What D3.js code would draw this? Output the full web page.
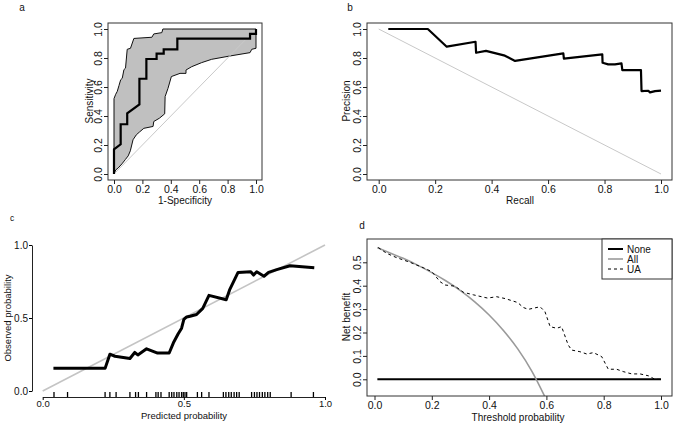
<!DOCTYPE html>
<html><head><meta charset="utf-8">
<script src="https://cdn.jsdelivr.net/npm/d3@7"></script>
<style>
html,body{margin:0;padding:0;background:#fff;}
svg{display:block;font-family:"Liberation Sans",Arial,Helvetica,sans-serif;}
</style></head>
<body>
<svg id="chart" width="676" height="425"></svg>
<script>
// ---------- DATA ----------
// a: ROC curve with confidence band
const rocX = [0,0,0.047,0.047,0.093,0.093,0.179,0.179,0.228,0.228,0.3,0.3,0.35,0.35,0.446,0.446,0.958,0.958,1,1];
const rocY = [0,0.17,0.205,0.343,0.343,0.418,0.48,0.657,0.657,0.793,0.793,0.83,0.83,0.86,0.86,0.933,0.933,0.966,0.966,1];
const upperX = [0,0,0.012,0.023,0.035,0.047,0.058,0.07,0.081,0.093,0.116,0.14,0.267,0.28,0.337,0.344,1];
const upperY = [0,0.52,0.55,0.57,0.61,0.65,0.66,0.72,0.73,0.86,0.867,0.935,0.943,0.966,0.975,1,1];
const lowerX = [0,0.012,0.028,0.056,0.08,0.1,0.115,0.134,0.157,0.18,0.21,0.275,0.28,0.32,0.357,0.36,0.38,0.404,0.465,0.507,0.507,0.547,0.617,0.688,0.817,0.958,0.97,1,1];
const lowerY = [0,0.028,0.04,0.07,0.1,0.125,0.16,0.236,0.27,0.29,0.315,0.328,0.362,0.385,0.415,0.534,0.59,0.672,0.694,0.694,0.717,0.74,0.768,0.791,0.814,0.837,0.86,0.867,1];
const ticksA = [0,0.2,0.4,0.6,0.8,1];

// b: precision-recall curve
const prRecall = [0.034,0.174,0.241,0.343,0.345,0.38,0.447,0.483,0.654,0.656,0.792,0.793,0.813,0.837,0.86,0.863,0.929,0.931,0.955,0.961,0.979,1.0];
const prPrecision = [1.0,1.0,0.878,0.912,0.836,0.849,0.816,0.78,0.832,0.796,0.825,0.767,0.756,0.756,0.763,0.717,0.717,0.572,0.574,0.563,0.572,0.575];

// c: calibration curve
const calX = [0.038,0.221,0.238,0.256,0.309,0.326,0.337,0.368,0.407,0.448,0.463,0.48,0.492,0.5,0.51,0.522,0.545,0.567,0.589,0.65,0.662,0.692,0.737,0.747,0.758,0.784,0.8,0.829,0.876,0.962];
const calY = [0.155,0.155,0.252,0.238,0.223,0.264,0.247,0.289,0.26,0.26,0.33,0.392,0.43,0.49,0.507,0.512,0.524,0.566,0.655,0.625,0.692,0.812,0.817,0.794,0.817,0.786,0.812,0.831,0.858,0.845];
const rugX = [0.04,0.088,0.221,0.238,0.26,0.309,0.329,0.339,0.368,0.401,0.409,0.419,0.448,0.457,0.465,0.475,0.483,0.492,0.498,0.504,0.51,0.548,0.563,0.589,0.64,0.649,0.659,0.668,0.678,0.687,0.696,0.74,0.75,0.759,0.768,0.778,0.787,0.797,0.806,0.88,0.959];
const ticksC = [0,0.5,1];

// d: decision curve
const noneX = [0.01,1];
const noneY = [0,0];
const allX = [0.01,0.05,0.1,0.15,0.2,0.25,0.3,0.35,0.4,0.45,0.5,0.55,0.6];
const allY = [0.563,0.542,0.517,0.488,0.456,0.42,0.379,0.331,0.275,0.209,0.13,0.033,-0.088];
const uaX = [0.013,0.043,0.077,0.124,0.17,0.2,0.229,0.246,0.281,0.31,0.345,0.395,0.426,0.456,0.5,0.519,0.537,0.578,0.595,0.613,0.636,0.653,0.676,0.688,0.717,0.741,0.764,0.793,0.816,0.845,0.868,0.898,0.927,0.956,0.979,1.0];
const uaY = [0.563,0.538,0.52,0.5,0.477,0.46,0.417,0.403,0.398,0.372,0.361,0.347,0.353,0.345,0.328,0.307,0.299,0.31,0.289,0.225,0.218,0.225,0.147,0.125,0.118,0.108,0.114,0.097,0.043,0.043,0.033,0.023,0.023,0.015,0.0,0.0];
const ticksD = [0,0.1,0.2,0.3,0.4,0.5];
const legendLabels = ["None","All","UA"];

// ---------- DRAWING ----------
const svg = d3.select("#chart");
const TICKFONT = "10.5px", TITLEFONT = "10px";
const fmt1 = d3.format(".1f");
const zip = (xs, ys) => xs.map((x,i)=>[x, ys[i]]);

function styleAxis(g){
  g.select(".domain").remove();
  g.selectAll(".tick line").attr("stroke","#222");
  g.selectAll(".tick text").attr("fill","#111").style("font-size",TICKFONT);
}
function rotateYLabels(g, c){
  g.selectAll(".tick text")
    .attr("transform","rotate(-90)")
    .attr("x",0).attr("y",-c).attr("dy","0.35em")
    .attr("text-anchor","middle");
}
function box(x0,y0,x1,y1){
  svg.append("rect").attr("x",x0).attr("y",y0).attr("width",x1-x0).attr("height",y1-y0)
    .attr("fill","none").attr("stroke","#333").attr("stroke-width",1);
}
function text(x,y,s,size,rot,anchor){
  const t = svg.append("text").attr("x",x).attr("y",y).text(s)
    .style("font-size",size).attr("fill","#111")
    .attr("text-anchor",anchor||"middle").attr("dominant-baseline","central");
  if(rot) t.attr("transform",`rotate(${rot},${x},${y})`);
  return t;
}

// ===== Panel a =====
{
  const x = d3.scaleLinear().domain([0,1]).range([114,256]);
  const y = d3.scaleLinear().domain([0,1]).range([174,29]);
  const line = d3.line().x(d=>x(d[0])).y(d=>y(d[1]));
  const band = zip(upperX,upperY).concat(zip(lowerX,lowerY).reverse());
  svg.append("path").attr("d", line(band)+"Z").attr("fill","#c0c0c0").attr("stroke","#111").attr("stroke-width",1);
  svg.append("path").attr("d", line([[0,0],[1,1]])).attr("stroke","#c8c8c8").attr("stroke-width",1).attr("fill","none");
  svg.append("path").attr("d", line(zip(rocX,rocY))).attr("stroke","#000").attr("stroke-width",2.2).attr("fill","none");
  box(108,23,262,180);
  svg.append("g").attr("transform","translate(0,180)")
    .call(d3.axisBottom(x).tickValues(ticksA).tickFormat(fmt1).tickSize(4).tickPadding(2)).call(styleAxis);
  svg.append("g").attr("transform","translate(108,0)")
    .call(d3.axisLeft(y).tickValues(ticksA).tickFormat(fmt1).tickSize(4)).call(styleAxis).call(g=>rotateYLabels(g,10));
  text(185,200,"1-Specificity",TITLEFONT);
  text(89,101,"Sensitivity",TITLEFONT,-90);
  text(22,7,"a","10px");
}

// ===== Panel b =====
{
  const x = d3.scaleLinear().domain([0,1]).range([378.7,661]);
  const y = d3.scaleLinear().domain([0,1]).range([174,29]);
  const line = d3.line().x(d=>x(d[0])).y(d=>y(d[1]));
  svg.append("path").attr("d", line([[0,1],[1,0]])).attr("stroke","#c8c8c8").attr("stroke-width",1).attr("fill","none");
  svg.append("path").attr("d", line(zip(prRecall,prPrecision))).attr("stroke","#000").attr("stroke-width",2.2).attr("fill","none").attr("stroke-linejoin","round");
  box(367,23,672,180);
  svg.append("g").attr("transform","translate(0,180)")
    .call(d3.axisBottom(x).tickValues(ticksA).tickFormat(fmt1).tickSize(4).tickPadding(2)).call(styleAxis);
  svg.append("g").attr("transform","translate(367,0)")
    .call(d3.axisLeft(y).tickValues(ticksA).tickFormat(fmt1).tickSize(4)).call(styleAxis).call(g=>rotateYLabels(g,9.5));
  text(520,200,"Recall",TITLEFONT);
  text(346,101,"Precision",TITLEFONT,-90);
  text(350,7,"b","10px");
}

// ===== Panel c =====
{
  const x = d3.scaleLinear().domain([0,1]).range([42.7,325]);
  const y = d3.scaleLinear().domain([0,1]).range([391,245]);
  const line = d3.line().x(d=>x(d[0])).y(d=>y(d[1]));
  svg.append("path").attr("d", line([[0,0],[1,1]])).attr("stroke","#c4c4c4").attr("stroke-width",1.6).attr("fill","none");
  svg.append("path").attr("d", line(zip(calX,calY))).attr("stroke","#000").attr("stroke-width",3).attr("fill","none").attr("stroke-linejoin","round");
  svg.append("g").selectAll("line").data(rugX).join("line")
    .attr("x1",d=>x(d)).attr("x2",d=>x(d)).attr("y1",392).attr("y2",397)
    .attr("stroke","#000").attr("stroke-width",1.3);
  const gx = svg.append("g").attr("transform","translate(0,397)")
    .call(d3.axisBottom(x).tickValues(ticksC).tickFormat(fmt1).tickSize(3).tickSizeOuter(0).tickPadding(0));
  gx.select(".domain").attr("stroke","#222");
  gx.selectAll(".tick text").style("font-size","9.5px").attr("fill","#111");
  const gy = svg.append("g").attr("transform","translate(32,0)")
    .call(d3.axisLeft(y).tickValues(ticksC).tickFormat(fmt1).tickSize(3).tickSizeOuter(0).tickPadding(1));
  gy.select(".domain").attr("stroke","#222");
  gy.selectAll(".tick text").style("font-size","10px").attr("fill","#111");
  text(184,415.5,"Predicted probability","9.5px");
  text(7,318,"Observed probability","9.5px",-90);
  text(12,218,"c","8.5px");
}

// ===== Panel d =====
{
  const x = d3.scaleLinear().domain([0,1]).range([374.5,661]);
  const y = d3.scaleLinear().domain([0,0.5]).range([379.3,262.3]);
  const line = d3.line().x(d=>x(d[0])).y(d=>y(d[1]));
  svg.append("clipPath").attr("id","clipD").append("rect").attr("x",367).attr("y",239).attr("width",305).attr("height",157);
  const g = svg.append("g").attr("clip-path","url(#clipD)");
  g.append("path").attr("d", line(zip(noneX,noneY))).attr("stroke","#000").attr("stroke-width",2).attr("fill","none");
  g.append("path").attr("d", d3.line().x(d=>x(d[0])).y(d=>y(d[1])).curve(d3.curveMonotoneX)(zip(allX,allY)))
    .attr("stroke","#9a9a9a").attr("stroke-width",1.6).attr("fill","none");
  g.append("path").attr("d", line(zip(uaX,uaY))).attr("stroke","#000").attr("stroke-width",1)
    .attr("stroke-dasharray","3,3").attr("fill","none");
  box(367,239,672,396);
  svg.append("g").attr("transform","translate(0,396)")
    .call(d3.axisBottom(x).tickValues(ticksA).tickFormat(fmt1).tickSize(4).tickPadding(2)).call(styleAxis);
  svg.append("g").attr("transform","translate(367,0)")
    .call(d3.axisLeft(y).tickValues(ticksD).tickFormat(fmt1).tickSize(4)).call(styleAxis).call(g=>rotateYLabels(g,9.5));
  text(518,417,"Threshold probability",TITLEFONT);
  text(346,317,"Net benefit",TITLEFONT,-90);
  text(362,225,"d","10px");
  // legend
  svg.append("rect").attr("x",602).attr("y",239).attr("width",70).attr("height",40)
    .attr("fill","#fff").attr("stroke","#333").attr("stroke-width",1);
  const styles = [
    {c:"#000",w:2,dash:null},
    {c:"#9a9a9a",w:1.6,dash:null},
    {c:"#000",w:1,dash:"3,3"}
  ];
  const ly = d3.scalePoint().domain(legendLabels).range([249,269]);
  legendLabels.forEach((lab,i)=>{
    const l = svg.append("line").attr("x1",608).attr("x2",623).attr("y1",ly(lab)).attr("y2",ly(lab))
      .attr("stroke",styles[i].c).attr("stroke-width",styles[i].w);
    if(styles[i].dash) l.attr("stroke-dasharray",styles[i].dash);
    text(627,ly(lab),lab,"10px",0,"start");
  });
}
</script>
</body></html>
